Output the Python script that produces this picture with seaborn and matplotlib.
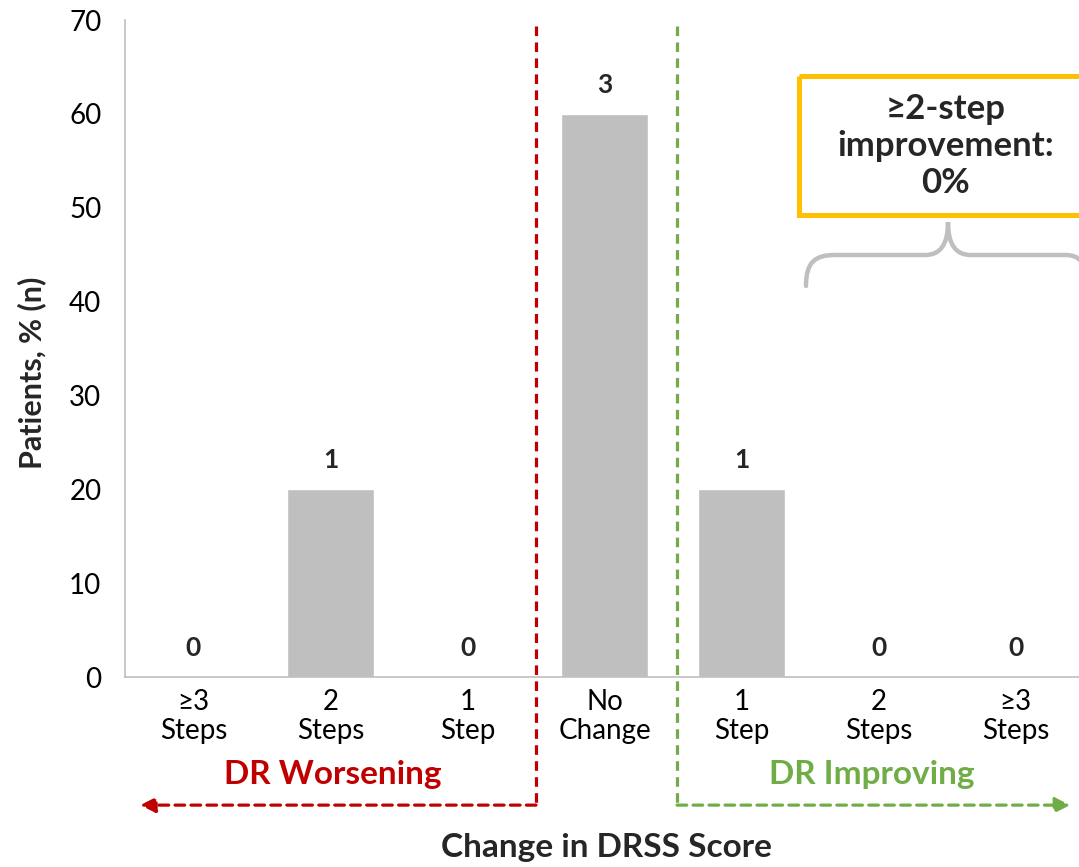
import matplotlib
matplotlib.use("Agg")
import matplotlib.pyplot as plt
import seaborn as sns
import pandas as pd
from matplotlib.path import Path
from matplotlib.patches import PathPatch, Rectangle

categories = ["≥3\nSteps", "2\nSteps", "1\nStep", "No\nChange", "1\nStep", "2\nSteps", "≥3\nSteps"]
percent = [0, 20, 0, 60, 20, 0, 0]
counts = [0, 1, 0, 3, 1, 0, 0]
y_ticks = [0, 10, 20, 30, 40, 50, 60, 70]

sns.set_style("white")
plt.rcParams['font.family'] = ['Lato', 'DejaVu Sans']

df = pd.DataFrame({"cat": [f"c{i}" for i in range(len(categories))], "pct": percent})

fig = plt.figure(figsize=(10.79, 8.67), dpi=100)
W, H = 1079, 867
ax = fig.add_axes([125 / W, 1 - 677 / H, 959 / W, 657 / H])

sns.barplot(data=df, x="cat", y="pct", color="#BFBFBF", width=0.63, ax=ax, saturation=1)

ax.set_ylim(0, 70)
ax.set_xlim(-0.5, 6.5)
ax.set_yticks(y_ticks)
ax.set_yticklabels([str(t) for t in y_ticks], fontsize=20, color="black")
ax.set_xticks(range(len(categories)))
ax.set_xticklabels(categories, fontsize=20, color="black", linespacing=1.12)
ax.set_xticks([i - 0.5 for i in range(len(categories) + 1)], minor=True)
ax.tick_params(axis="x", which="major", length=0, pad=9)
ax.tick_params(axis="x", which="minor", length=7, color="#BFBFBF", width=1.2, direction="out")
ax.tick_params(axis="y", length=7, color="#BFBFBF", width=1.2, direction="out", pad=10)
for s in ["top", "right"]:
    ax.spines[s].set_visible(False)
for s in ["left", "bottom"]:
    ax.spines[s].set_color("#BFBFBF")
    ax.spines[s].set_linewidth(1.2)

ax.set_ylabel("Patients, % (n)", fontsize=22, fontweight="bold")
ax.yaxis.set_label_coords((32 - 125) / 959, (677 - 373) / 657)
ax.yaxis.label.set_va("center")
ax.set_xlabel("Change in DRSS Score", fontsize=24, fontweight="bold")
ax.xaxis.set_label_coords((606 - 125) / 959, (677 - 848) / 657)
ax.xaxis.label.set_va("center")

for i, (v, n) in enumerate(zip(percent, counts)):
    ax.text(i, v + 3.1, str(n), ha="center", va="center", fontsize=19, fontweight="bold")

# Dashed separators and arrows
red = "#C00000"
green = "#70AD47"
ytop, ybot = 69.4, -13.65
ax.plot([2.5, 2.5], [ytop, ybot], ls=(0, (3, 2)), color=red, lw=2.3, clip_on=False)
ax.annotate("", xy=(-0.39, ybot), xytext=(2.5, ybot), xycoords="data",
            arrowprops=dict(arrowstyle="-|>,head_length=0.9,head_width=0.45", color=red, lw=2.3,
                            ls=(0, (3, 2)), shrinkA=0, shrinkB=0), annotation_clip=False)
ax.plot([3.53, 3.53], [ytop, ybot], ls=(0, (3, 2)), color=green, lw=2.3, clip_on=False)
ax.annotate("", xy=(6.4, ybot), xytext=(3.53, ybot), xycoords="data",
            arrowprops=dict(arrowstyle="-|>,head_length=0.9,head_width=0.45", color=green, lw=2.3,
                            ls=(0, (3, 2)), shrinkA=0, shrinkB=0), annotation_clip=False)

ax.text(1.02, -10.35, "DR Worsening", ha="center", va="center", fontsize=24, fontweight="bold", color=red, clip_on=False)
ax.text(4.95, -10.35, "DR Improving", ha="center", va="center", fontsize=24, fontweight="bold", color=green, clip_on=False)

# Overlay in pixel coordinates for the callout box and brace
ov = fig.add_axes([0, 0, 1, 1])
ov.set_xlim(0, W)
ov.set_ylim(H, 0)
ov.axis("off")
ov.patch.set_alpha(0)

ov.add_patch(Rectangle((799, 76), 300, 139, fill=False, edgecolor="#FFC000", lw=3.6))
ov.text(946, 146, "≥2-step\nimprovement:\n0%", ha="center", va="center", fontsize=25,
        fontweight="bold", linespacing=1.2)

verts = [(806, 286), (806, 262), (815, 255), (835, 255),
         (925, 255), (940, 255), (948, 245), (948, 222),
         (948, 245), (956, 255), (971, 255),
         (1065, 255), (1080, 255), (1086, 262), (1086, 286)]
codes = [Path.MOVETO, Path.CURVE4, Path.CURVE4, Path.CURVE4,
         Path.LINETO, Path.CURVE4, Path.CURVE4, Path.CURVE4,
         Path.CURVE4, Path.CURVE4, Path.CURVE4,
         Path.LINETO, Path.CURVE4, Path.CURVE4, Path.CURVE4]
ov.add_patch(PathPatch(Path(verts, codes), fill=False, edgecolor="#BFBFBF", lw=3.2, capstyle="round"))

fig.savefig("out.png", dpi=100)
